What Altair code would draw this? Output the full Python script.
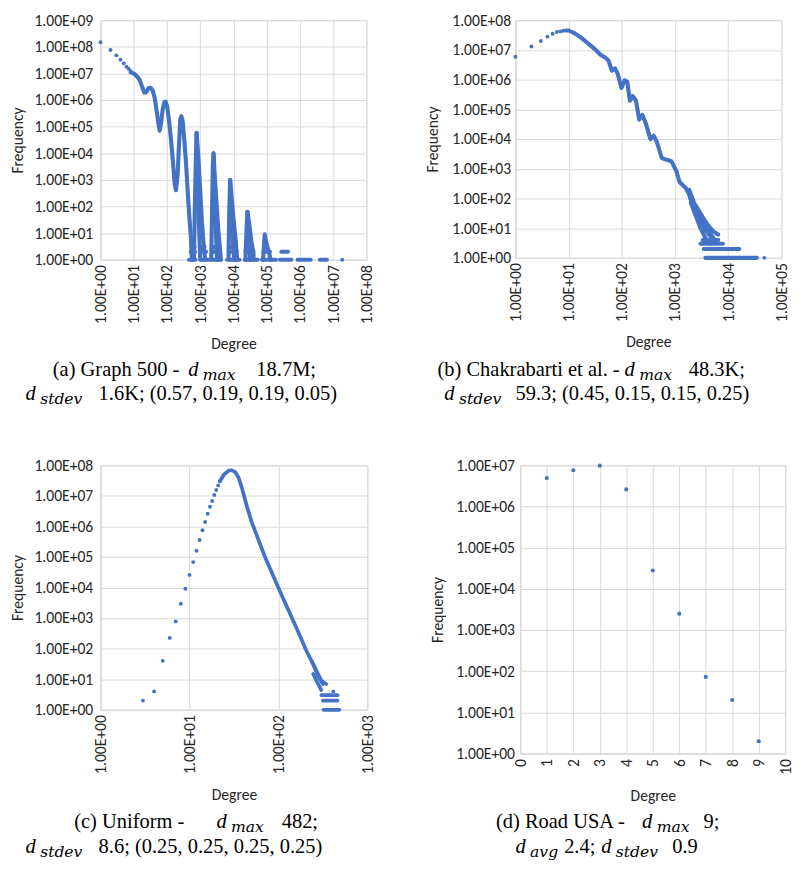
import altair as alt
import pandas as pd

BLUE = "#4472C4"
GRID = "#D9D9D9"
TEXT = "#262626"
AX_FONT = "Carlito, Lato, sans-serif"
CAP_FONT = "Linux Libertine O, Liberation Serif, serif"
SUB_FONT = "DejaVu Serif, Liberation Serif, serif"

# ---------------- (a) Graph 500 ----------------
A_PTS_DEG = [1, 2, 3, 4, 5, 6, 7, 8, 1.87e7]
A_PTS_FREQ = [1.5e8, 7.6e7, 4.8e7, 3.3e7, 2.4e7, 1.8e7, 1.5e7, 1.25e7, 1]

A_MAIN_DEG = [8.1, 10.1, 12.6, 15.1, 17.8, 20.9, 24, 27.5, 32.4, 37.2, 42.7, 49, 55, 60, 66, 74, 83, 91,
              102, 115, 132, 151, 170, 186, 209, 229, 251, 269, 295, 331, 372, 417, 468, 525, 560]
A_MAIN_FREQ = [1.1e7, 9.8e6, 7.8e6, 5.6e6, 3.2e6, 1.9e6, 2.0e6, 2.8e6, 2.9e6, 2.3e6, 1.2e6, 3.8e5, 1.3e5, 7.1e4,
               1.3e5, 4.4e5, 8.3e5, 8.7e5, 5.4e5, 1.7e5, 3.2e4, 4.8e3, 710, 410, 1.6e3, 1.9e4, 1.9e5, 2.5e5,
               1.7e5, 3.2e4, 4.8e3, 410, 45, 6.6, 1]
A_S3_DEG = [646, 692, 741, 776, 871, 1000, 1122, 1288, 1413]
A_S3_FREQ = [1, 135, 8.3e3, 5.9e4, 8.3e3, 410, 26, 2.9, 1]
A_S3_MID_DEG = [776, 830, 900, 1000]
A_S3_MID_FREQ = [5.9e4, 2.0e3, 40, 1]
A_S4_DEG = [2138, 2291, 2399, 2512, 2754, 3090, 3467, 3890, 4169]
A_S4_FREQ = [1, 135, 3.6e3, 1.0e4, 1.2e3, 135, 15, 2.9, 1]
A_S4_MID_DEG = [2512, 2650, 2900, 3200]
A_S4_MID_FREQ = [1.0e4, 500, 20, 1]
A_S5_DEG = [7079, 7413, 7943, 8913, 10233, 11749, 12882]
A_S5_FREQ = [1, 45, 1000, 178, 26, 5, 1]
A_S5_MID_DEG = [7943, 8500, 9500, 10500]
A_S5_MID_FREQ = [1000, 60, 6, 1]
A_S6_DEG = [22909, 24547, 26303, 30200, 34674, 39811, 40738]
A_S6_FREQ = [1, 11.5, 63, 20, 5, 1.7, 1]
A_S6_MID_DEG = [26303, 28500, 32000]
A_S6_MID_FREQ = [63, 8, 1]
A_S7_DEG = [77625, 87096, 100000, 120226, 131826]
A_S7_FREQ = [1, 9, 3.8, 1.7, 1]
A_ROW1_DEG = [[460, 722], [1122, 1862], [2239, 4169], [6457, 15136], [21878, 53703],
              [72443, 190546], [251189, 549541], [851138, 2089296], [3981072, 6456542]]
A_ROW2_DEG = [[520, 700], [1000, 1500], [2300, 3800], [7300, 12500], [23000, 40000], [80000, 125000],
              [275423, 436516]]
A_ROW3_DEG = [[540, 680], [1050, 1350], [2350, 3500], [7400, 11500], [24000, 36000]]

# ---------------- (b) Chakrabarti et al. ----------------
B_PTS_DEG = [1, 2, 3, 4, 5, 6, 7, 8, 47900]
B_PTS_FREQ = [5.9e6, 1.3e7, 2.0e7, 2.8e7, 3.5e7, 4.0e7, 4.2e7, 4.4e7, 1]
B_MAIN_DEG = [9, 10, 13, 17.2, 22.8, 32.3, 39.8, 49.1, 56.5, 64.9, 74.6, 83.4, 98.6, 113.5, 126.8, 141.9,
              160.7, 184.9, 212.3, 244.3, 280.5, 345.9, 398, 458, 565, 695, 857, 1057, 1216, 1607, 1849,
              2280, 2805, 3459, 4266, 5260]
B_MAIN_FREQ = [4.5e7, 4.5e7, 3.6e7, 2.6e7, 1.7e7, 1.0e7, 6.9e6, 5.5e6, 4.3e6, 2.0e6, 2.4e6, 1.6e6, 5.2e5,
               9.5e5, 8.5e5, 1.95e5, 2.8e5, 1.95e5, 4.5e4, 6.5e4, 3.5e4, 1.0e4, 1.3e4, 7.8e3, 2.3e3, 2.0e3,
               1.8e3, 850, 360, 220, 135, 50, 27, 14, 7.8, 4.8]
B_UP_DEG = [1849, 2280, 2805, 3459, 4266, 5260, 6486]
B_UP_FREQ = [195, 72, 39, 21, 12, 7.8, 6.1]
B_MID_DEG = [1900, 2350, 2900, 3550, 4400, 5500]
B_MID_FREQ = [110, 42, 20, 10, 6, 4]
B_LO_DEG = [1982, 2443, 3013, 3715, 4581]
B_LO_FREQ = [72, 27, 10, 4.8, 3.0]
B_ROWS = [(4, 3300, 6500), (3, 3020, 7950), (2, 3470, 16200), (1, 3720, 34700)]

# ---------------- (c) Uniform ----------------
C_PTS_DEG = [3, 4, 5, 6, 7, 8, 9, 10, 11, 12, 13, 14, 15, 16, 17, 18, 19, 20, 21, 22, 414]
C_PTS_FREQ = [2, 4, 40, 225, 780, 2950, 9100, 2.6e4, 6.8e4, 1.6e5, 3.6e5, 7.5e5, 1.4e6, 2.6e6, 4.4e6,
              6.8e6, 1.07e7, 1.55e7, 2.2e7, 3.0e7, 4]
C_MAIN_DEG = [22, 24.4, 27.6, 30, 32.7, 35.6, 38.7, 43.9, 49.8, 69.7, 106, 161, 208, 246, 279, 316]
C_MAIN_FREQ = [3.0e7, 5.0e7, 6.7e7, 6.9e7, 6.0e7, 4.0e7, 1.9e7, 4.9e6, 1.44e6, 1.1e5, 6.6e3, 450, 81, 31, 13, 7]
C_UP_DEG = [236, 267, 303, 344]
C_UP_FREQ = [39, 19, 9, 7]
C_LO_DEG = [246, 279, 303]
C_LO_FREQ = [15, 7, 4.4]
C_ROWS = [(3, 304, 462), (2, 316, 462), (1, 321, 482)]

# ---------------- (d) Road USA ----------------
D_DEG = [1, 2, 3, 4, 5, 6, 7, 8, 9]
D_FREQ = [4.9e6, 7.6e6, 9.8e6, 2.6e6, 2.8e4, 2.5e3, 73, 20, 2]


def seg_frame(segments):
    rows = []
    for name, degs, freqs in segments:
        for i, (d, f) in enumerate(zip(degs, freqs)):
            rows.append({"seg": name, "i": i, "deg": d, "freq": f})
    return pd.DataFrame(rows)


a_segs = [("main", A_MAIN_DEG, A_MAIN_FREQ),
          ("s3", A_S3_DEG, A_S3_FREQ), ("s3m", A_S3_MID_DEG, A_S3_MID_FREQ),
          ("s4", A_S4_DEG, A_S4_FREQ), ("s4m", A_S4_MID_DEG, A_S4_MID_FREQ),
          ("s5", A_S5_DEG, A_S5_FREQ), ("s5m", A_S5_MID_DEG, A_S5_MID_FREQ),
          ("s6", A_S6_DEG, A_S6_FREQ), ("s6m", A_S6_MID_DEG, A_S6_MID_FREQ),
          ("s7", A_S7_DEG, A_S7_FREQ)]
for lvl, rows in ((1, A_ROW1_DEG), (2, A_ROW2_DEG), (3, A_ROW3_DEG)):
    for k, r in enumerate(rows):
        a_segs.append((f"r{lvl}_{k}", r, [lvl, lvl]))
b_segs = [("main", B_MAIN_DEG, B_MAIN_FREQ), ("up", B_UP_DEG, B_UP_FREQ), ("mid", B_MID_DEG, B_MID_FREQ),
          ("lo", B_LO_DEG, B_LO_FREQ)]
for f, d0, d1 in B_ROWS:
    b_segs.append((f"r{f}", [d0, d1], [f, f]))
c_segs = [("main", C_MAIN_DEG, C_MAIN_FREQ), ("up", C_UP_DEG, C_UP_FREQ), ("lo", C_LO_DEG, C_LO_FREQ)]
for f, d0, d1 in C_ROWS:
    c_segs.append((f"r{f}", [d0, d1], [f, f]))

SCI = "'1.00E+' + (log(datum.value)/LN10 < 9.5 ? '0' : '') + round(log(datum.value)/LN10)"
ONE = alt.Data(values=[{"a": 1}])
Y_EXT = 74
SUB_DROP = 4


def log_xaxis(n, ext):
    return alt.Axis(title="Degree", values=[10 ** e for e in range(n + 1)], labelExpr=SCI, labelAngle=-90,
                    labelPadding=5, titlePadding=4, minExtent=ext, labelOverlap=False, labelFlush=False)


def log_yaxis(n, label_pad):
    return alt.Axis(title="Frequency", values=[10 ** e for e in range(n + 1)], labelExpr=SCI,
                    labelPadding=label_pad, titlePadding=3, minExtent=Y_EXT, maxExtent=Y_EXT,
                    labelOverlap=False, labelFlush=False)


def txt(t, x, y, size=21, italic=False, font=CAP_FONT):
    return alt.Chart(ONE).mark_text(
        text=t, align="left", baseline="alphabetic", font=font, fontSize=size,
        fontStyle="italic" if italic else "normal", color="#000"
    ).encode(x=alt.value(x), y=alt.value(y))


def sub(t, x0, y):
    return [txt(t, x0, y + SUB_DROP, 16, True, SUB_FONT)]


def panel(seg_df, pts, xs, ys, xa, ya, w, h, caps, pt_size=16, sw=4.2):
    X = alt.X("deg:Q", scale=xs, axis=xa)
    Y = alt.Y("freq:Q", scale=ys, axis=ya)
    layers = []
    if seg_df is not None:
        layers.append(alt.Chart(seg_df).mark_line(
            color=BLUE, strokeWidth=sw, strokeCap="round", strokeJoin="round"
        ).encode(x=X, y=Y, detail="seg:N", order="i:Q"))
    layers.append(alt.Chart(pts).mark_circle(color=BLUE, size=pt_size, opacity=1).encode(x=X, y=Y))
    return alt.layer(*layers, *caps).properties(width=w, height=h)


L1, L2 = 365, 390
caps_a = [txt("(a) Graph 500 -", -49, L1), txt("d", 90, L1, 21, True), *sub("max", 105, L1),
          txt("18.7M;", 160, L1),
          txt("d", -77, L2, 21, True), *sub("stdev", -62, L2),
          txt("1.6K; (0.57, 0.19, 0.19, 0.05)", -2, L2)]
caps_b = [txt("(b) Chakrabarti et al. -", -80, L1), txt("d", 112, L1, 21, True), *sub("max", 127, L1),
          txt("48.3K;", 178, L1),
          txt("d", -73, L2, 21, True), *sub("stdev", -58, L2),
          txt("59.3; (0.45, 0.15, 0.15, 0.25)", 0, L2)]
M1, M2 = 372, 398
caps_c = [txt("(c) Uniform -", -27, M1), txt("d", 119, M1, 21, True), *sub("max", 134, M1),
          txt("482;", 186, M1),
          txt("d", -77, M2, 21, True), *sub("stdev", -62, M2),
          txt("8.6; (0.25, 0.25, 0.25, 0.25)", -2, M2)]
caps_d = [txt("(d) Road USA -", -25, M1), txt("d", 125, M1, 21, True), *sub("max", 140, M1),
          txt("9;", 188, M1),
          txt("d", -5, M2, 21, True), *sub("avg", 10, M2), txt("2.4;", 45, M2),
          txt("d", 83, M2, 21, True), *sub("stdev", 98, M2), txt("0.9", 156, M2)]

pa = panel(seg_frame(a_segs), pd.DataFrame({"deg": A_PTS_DEG, "freq": A_PTS_FREQ}),
           alt.Scale(type="log", domain=[1, 1e8], nice=False), alt.Scale(type="log", domain=[1, 1e9], nice=False),
           log_xaxis(8, 74), log_yaxis(9, 8), 273, 246, caps_a)
pb = panel(seg_frame(b_segs), pd.DataFrame({"deg": B_PTS_DEG, "freq": B_PTS_FREQ}),
           alt.Scale(type="log", domain=[1, 1e5], nice=False), alt.Scale(type="log", domain=[1, 1e8], nice=False),
           log_xaxis(5, 74), log_yaxis(8, 5), 273, 244, caps_b)
pc = panel(seg_frame(c_segs), pd.DataFrame({"deg": C_PTS_DEG, "freq": C_PTS_FREQ}),
           alt.Scale(type="log", domain=[1, 1e3], nice=False), alt.Scale(type="log", domain=[1, 1e8], nice=False),
           log_xaxis(3, 75), log_yaxis(8, 8), 274, 251, caps_c, sw=3.8)
pd_ = panel(None, pd.DataFrame({"deg": D_DEG, "freq": D_FREQ}),
            alt.Scale(domain=[0, 10], nice=False), alt.Scale(type="log", domain=[1, 1e7], nice=False),
            alt.Axis(title="Degree", values=list(range(11)), labelAngle=-90, labelPadding=5, titlePadding=4,
                     minExtent=31, labelFlush=False, labelOverlap=False),
            log_yaxis(7, 6), 272, 296, caps_d, pt_size=18)

chart = alt.vconcat(
    alt.hconcat(pa, pb, spacing=50),
    alt.hconcat(pc, pd_, spacing=54),
    spacing=50,
).properties(padding={"left": 1, "top": -8, "right": 0, "bottom": 0}).configure_axis(
    grid=True, gridColor=GRID, gridWidth=1, domainColor=GRID, domainWidth=1, ticks=False,
    labelFont=AX_FONT, labelFontSize=16, labelColor=TEXT,
    titleFont=AX_FONT, titleFontSize=16, titleFontWeight="normal", titleColor=TEXT,
).configure_view(stroke=GRID, strokeWidth=1)

chart.save("out.html", embed_options={"renderer": "svg", "actions": False})
